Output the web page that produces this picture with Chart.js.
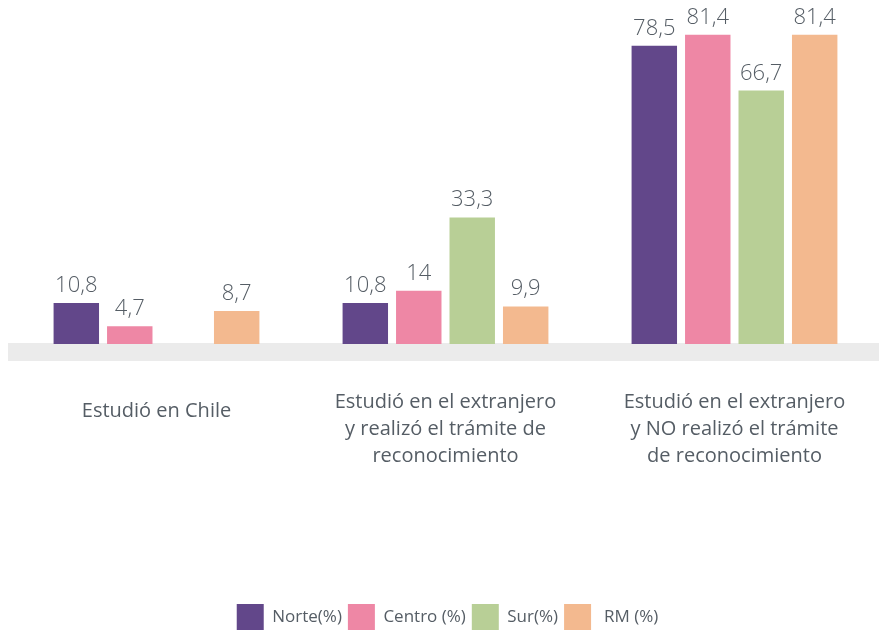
<!DOCTYPE html>
<html lang="es">
<head>
<meta charset="utf-8">
<script src="https://cdn.jsdelivr.net/npm/chart.js@4/dist/chart.umd.min.js"></script>
<style>
  html, body { margin: 0; padding: 0; background: #fff; }
</style>
</head>
<body>
<canvas id="grafico" width="879" height="630"></canvas>
<script>
// === DATOS ===
const categorias = [
  "Estudió en Chile",
  ["Estudió en el extranjero", "y realizó el trámite de", "reconocimiento"],
  ["Estudió en el extranjero", "y NO realizó el trámite", "de reconocimiento"]
];
const series = ["Norte(%)", "Centro (%)", "Sur(%)", " RM (%)"];
const norte = [10.8, 10.8, 78.5];
const centro = [4.7, 14, 81.4];
const sur = [null, 33.3, 66.7];
const rm = [8.7, 9.9, 81.4];
const colores = ["#62478a", "#ee87a5", "#b8cf96", "#f3b98f"];

const grisTexto = "#555d65";
const fuente = "'Open Sans', 'DejaVu Sans', sans-serif";

// franja gris bajo las barras
const franja = {
  id: "franja",
  beforeDatasetsDraw(chart) {
    const { ctx, chartArea } = chart;
    ctx.save();
    ctx.fillStyle = "#ebebeb";
    ctx.fillRect(8, chartArea.bottom - 1, 871, 18);
    ctx.restore();
  }
};

// etiquetas de valor sobre cada barra
const etiquetas = {
  id: "etiquetas",
  afterDatasetsDraw(chart) {
    const ctx = chart.ctx;
    ctx.save();
    ctx.font = "300 22px " + fuente;
    ctx.fillStyle = grisTexto;
    ctx.textAlign = "center";
    ctx.textBaseline = "alphabetic";
    chart.data.datasets.forEach((ds, i) => {
      chart.getDatasetMeta(i).data.forEach((bar, j) => {
        const v = ds.data[j];
        if (v == null) return;
        ctx.fillText(String(v).replace(".", ","), bar.x, bar.y - 11);
      });
    });
    ctx.restore();
  }
};

new Chart(document.getElementById("grafico"), {
  type: "bar",
  data: {
    labels: categorias,
    datasets: [norte, centro, sur, rm].map((d, i) => ({
      label: series[i],
      data: d,
      backgroundColor: colores[i],
      borderWidth: 0,
      barPercentage: 0.85,
      categoryPercentage: 0.74
    }))
  },
  options: {
    responsive: false,
    animation: false,
    layout: { padding: { top: 21, left: 12, right: -4, bottom: 0 } },
    scales: {
      x: {
        grid: { display: false, drawTicks: false },
        border: { display: false },
        ticks: {
          color: grisTexto,
          padding: 44.5,
          maxRotation: 0,
          autoSkip: false,
          font: c => ({ family: fuente, size: 20, lineHeight: c.index === 0 ? "45px" : "27px" })
        },
        afterFit: s => {
          s.height = 254;
          s.paddingLeft = 0;
          s.paddingRight = 0;
        }
      },
      y: { display: false, min: 0, max: 85 }
    },
    plugins: {
      legend: {
        position: "bottom",
        maxHeight: 32,
        labels: {
          boxWidth: 27,
          boxHeight: 26,
          padding: 6,
          color: grisTexto,
          font: { family: fuente, size: 17 }
        }
      },
      tooltip: { enabled: false }
    }
  },
  plugins: [franja, etiquetas]
});
</script>
</body>
</html>
